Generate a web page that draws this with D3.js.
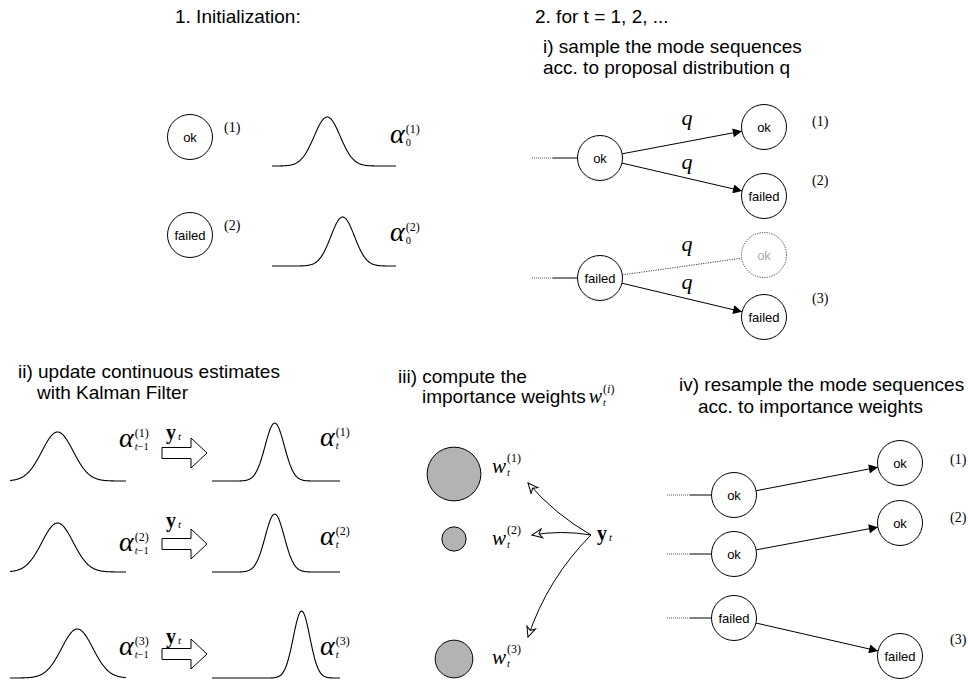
<!DOCTYPE html>
<html>
<head>
<meta charset="utf-8">
<script src="https://cdn.jsdelivr.net/npm/d3@7/dist/d3.min.js"></script>
<style>
  body { margin: 0; background: #fff; }
  text { font-family: "Liberation Sans", Arial, sans-serif; fill: #000; }
  text.serif { font-family: "Liberation Serif", "Times New Roman", serif; }
</style>
</head>
<body>
<svg id="chart"></svg>
<script>
// ---- data ----
// 1. initialization
var initModes = ["ok", "failed"];
var initIdx = ["(1)", "(2)"];
var initMeans = [44.5, 57];      // position of the peak, % of the axis
var initSds = [10.5, 9.5];

// i) sampling of mode sequences
var prevModes = ["ok", "failed"];
var sampledModes = [["ok", "failed"], ["ok", "failed"]];
var sampledKept = [[true, true], [false, true]];
var sampledIdx = [["(1)", "(2)"], [null, "(3)"]];

// ii) Kalman filter update
var kfIdx = ["(1)", "(2)", "(3)"];
var priorMeans = [41, 41, 58];
var priorSds = [13.5, 13.5, 13.5];
var postMeans = [49, 49, 70];
var postSds = [7.5, 7.5, 6.5];

// iii) importance weights
var weights = [0.59, 0.12, 0.29];
var weightIdx = ["(1)", "(2)", "(3)"];

// iv) resampling
var resFrom = ["ok", "ok", "failed"];
var resTo = ["ok", "ok", "failed"];
var resIdx = ["(1)", "(2)", "(3)"];

var width = 968, height = 685;
var NODE_R = 22.5;

var svg = d3.select("#chart")
  .attr("width", width)
  .attr("height", height);

var defs = svg.append("defs");
defs.append("marker")
  .attr("id", "solidHead")
  .attr("viewBox", "0 0 10 10")
  .attr("refX", 10).attr("refY", 5)
  .attr("markerWidth", 12).attr("markerHeight", 9)
  .attr("markerUnits", "userSpaceOnUse")
  .attr("orient", "auto")
  .append("path")
  .attr("d", "M0,0L10,5L0,10Z")
  .attr("fill", "#000");
defs.append("marker")
  .attr("id", "openHead")
  .attr("viewBox", "-1 -1 12 12")
  .attr("refX", 10).attr("refY", 5)
  .attr("markerWidth", 12).attr("markerHeight", 12)
  .attr("markerUnits", "userSpaceOnUse")
  .attr("orient", "auto")
  .append("path")
  .attr("d", "M0,0.5L10,5L0,9.5L3,5Z")
  .attr("fill", "#fff")
  .attr("stroke", "#000")
  .attr("stroke-width", 1);

// ---- helpers ----
function title(x, y, txt) {
  return svg.append("text")
    .attr("x", x).attr("y", y)
    .attr("font-size", 19)
    .text(txt);
}

function node(cx, cy, label, ghost) {
  svg.append("circle")
    .attr("cx", cx).attr("cy", cy).attr("r", NODE_R)
    .attr("fill", "#fff")
    .attr("stroke", ghost ? "#444" : "#000")
    .attr("stroke-width", 1)
    .attr("stroke-dasharray", ghost ? "1.2,1.2" : null);
  svg.append("text")
    .attr("x", cx).attr("y", cy)
    .attr("dy", "0.36em")
    .attr("text-anchor", "middle")
    .attr("font-size", 13)
    .style("fill", ghost ? "#aaa" : "#000")
    .text(label);
}

function idxLabel(x, y, txt) {
  svg.append("text").attr("class", "serif")
    .attr("x", x).attr("y", y)
    .attr("font-size", 14)
    .text(txt);
}

function leader(xa, xb, xc, y) {
  svg.append("line").attr("x1", xa).attr("x2", xb).attr("y1", y).attr("y2", y)
    .attr("stroke", "#555").attr("stroke-dasharray", "1,1");
  svg.append("line").attr("x1", xb).attr("x2", xc).attr("y1", y).attr("y2", y)
    .attr("stroke", "#000");
}

function edge(p, c, dotted) {
  var dx = c[0] - p[0], dy = c[1] - p[1], len = Math.sqrt(dx * dx + dy * dy);
  var ux = dx / len, uy = dy / len;
  svg.append("line")
    .attr("x1", p[0] + ux * NODE_R).attr("y1", p[1] + uy * NODE_R)
    .attr("x2", c[0] - ux * NODE_R).attr("y2", c[1] - uy * NODE_R)
    .attr("stroke", dotted ? "#444" : "#000")
    .attr("stroke-width", 1)
    .attr("stroke-dasharray", dotted ? "1.2,1.2" : null)
    .attr("marker-end", dotted ? null : "url(#solidHead)");
}

// pieces: array of [text, italic]
function addRuns(t, pieces) {
  pieces.forEach(function(p) {
    t.append("tspan").attr("font-style", p[1] ? "italic" : "normal").text(p[0]);
  });
}

// symbol with stacked super/subscript, y is the baseline of the symbol
function mathLabel(x, y, o) {
  var t = svg.append("text").attr("class", "serif")
    .attr("x", x).attr("y", y)
    .attr("font-size", o.size)
    .attr("font-style", o.bold ? "normal" : "italic")
    .attr("font-weight", o.bold ? "bold" : "normal")
    .text(o.base);
  var sx = x + t.node().getComputedTextLength() + (o.gap || 1);
  if (o.sup) {
    var s = svg.append("text").attr("class", "serif")
      .attr("x", sx).attr("y", y + o.supDy)
      .attr("font-size", o.supSize);
    addRuns(s, o.sup);
  }
  if (o.sub) {
    var b = svg.append("text").attr("class", "serif")
      .attr("x", sx).attr("y", y + o.subDy)
      .attr("font-size", o.subSize);
    addRuns(b, o.sub);
  }
}

function alpha(x, y, idx, sub) {
  mathLabel(x, y, { base: "\u03b1", size: 28, sup: [[idx, false]], supSize: 12, supDy: -10,
    sub: sub, subSize: 10.5, subDy: 3, gap: 0 });
}

function pdf(mu, sd) {
  return function(v) {
    return Math.exp(-0.5 * Math.pow((v - mu) / sd, 2)) / (sd * Math.sqrt(2 * Math.PI));
  };
}

// bell curve drawn through a linear x scale [0,100] and a density y scale
function bell(mu, sd, x0, x1, base, refSd, refPx) {
  var x = d3.scaleLinear().domain([0, 100]).range([x0, x1]);
  var y = d3.scaleLinear().domain([0, pdf(0, refSd)(0)]).range([base, base - refPx]);
  var f = pdf(mu, sd);
  var line = d3.line()
    .x(function(d) { return x(d); })
    .y(function(d) { return y(f(d)); })
    .curve(d3.curveBasis);
  svg.append("path")
    .attr("d", line(d3.range(0, 100.01, 0.5)))
    .attr("fill", "none")
    .attr("stroke", "#000")
    .attr("stroke-width", 1.1);
}

function blockArrow(x0, xh, xt, cy) {
  var sh = 5.5, hh = 15;
  var pts = [[x0, cy - sh], [xh, cy - sh], [xh, cy - hh], [xt, cy], [xh, cy + hh], [xh, cy + sh], [x0, cy + sh]];
  svg.append("path")
    .attr("d", d3.line()(pts) + "Z")
    .attr("fill", "#fff")
    .attr("stroke", "#000")
    .attr("stroke-width", 1);
}

function yt(x, y) {
  mathLabel(x, y, { base: "y", bold: true, size: 20, sub: [["t", true]], subSize: 11, subDy: 1, gap: 2 });
}

// ---- 1. Initialization ----
title(175, 23, "1. Initialization:");
var initY = [137, 235];
var initBase = [166, 266];
initModes.forEach(function(m, i) {
  node(190, initY[i], m);
  idxLabel(224, initY[i] - 5, initIdx[i]);
  bell(initMeans[i], initSds[i], 272, 396, initBase[i], initSds[i], 49);
  alpha(390, initY[i] + 6, initIdx[i], [["0", false]]);
});

// ---- 2. i) sample ----
title(535, 23, "2. for t = 1, 2, ...");
title(543, 53, "i) sample the mode sequences");
title(543, 74, "acc. to proposal distribution q");
var parY = [158, 278];
var childY = [[127, 196], [255, 317]];
var qY = [[125, 169], [251, 289]];
var sIdxY = [[126, 185], [null, 303]];
prevModes.forEach(function(m, i) {
  leader(532, 553, 600 - NODE_R, parY[i]);
  sampledModes[i].forEach(function(c, j) {
    edge([600, parY[i]], [764, childY[i][j]], !sampledKept[i][j]);
    svg.append("text").attr("class", "serif")
      .attr("x", 687).attr("y", qY[i][j])
      .attr("text-anchor", "middle")
      .attr("font-size", 22).attr("font-style", "italic")
      .text("q");
    node(764, childY[i][j], c, !sampledKept[i][j]);
    if (sampledIdx[i][j]) idxLabel(812, sIdxY[i][j], sampledIdx[i][j]);
  });
  node(600, parY[i], m);
});

// ---- ii) Kalman filter ----
title(18, 378, "ii) update continuous estimates");
title(37, 399, "with Kalman Filter");
var kfBase = [481, 572, 678];
var kfAlphaPrev = [447, 551, 655];
var kfAlphaPost = [446, 545, 655];
var kfY = [439, 527, 643];
var kfArrow = [453, 544, 654];
kfIdx.forEach(function(k, i) {
  bell(priorMeans[i], priorSds[i], 10, 126, kfBase[i], priorSds[0], 49);
  bell(postMeans[i], postSds[i], 212, 340, kfBase[i], postSds[0], 58);
  alpha(119, kfAlphaPrev[i], k, [["t", true], ["\u22121", false]]);
  alpha(320, kfAlphaPost[i], k, [["t", true]]);
  blockArrow(162, 191, 207, kfArrow[i]);
  yt(166, kfY[i]);
});

// ---- iii) importance weights ----
title(398, 383, "iii) compute the");
var impTitle = title(422, 403, "importance weights");
var wx = 422 + impTitle.node().getComputedTextLength() + 3;
mathLabel(wx, 403, { base: "w", size: 20, sup: [["(", false], ["i", true], [")", false]], supSize: 12,
  supDy: -10, sub: [["t", true]], subSize: 10, subDy: 3, gap: 0 });
var rScale = d3.scaleSqrt().domain([0, 1]).range([0, 35]);
var wY = [474, 539, 659];
var wLabY = [473, 545, 664];
var wTarget = [[528, 483], [532, 535], [528, 637]];
var wBend = [-7, 5, 14];
var origin = [591, 535];
weights.forEach(function(w, i) {
  svg.append("circle")
    .attr("cx", 454).attr("cy", wY[i]).attr("r", rScale(w))
    .attr("fill", "#b3b3b3")
    .attr("stroke", "#000").attr("stroke-width", 1);
  mathLabel(492, wLabY[i], { base: "w", size: 21, sup: [[weightIdx[i], false]], supSize: 12,
    supDy: -11, sub: [["t", true]], subSize: 10.5, subDy: 3, gap: 0 });
  var t = wTarget[i];
  var mx = (origin[0] + t[0]) / 2, my = (origin[1] + t[1]) / 2;
  var dx = t[0] - origin[0], dy = t[1] - origin[1], len = Math.sqrt(dx * dx + dy * dy);
  var cx = mx - dy / len * wBend[i], cy = my + dx / len * wBend[i];
  var p = d3.path();
  p.moveTo(origin[0], origin[1]);
  p.quadraticCurveTo(cx, cy, t[0], t[1]);
  svg.append("path")
    .attr("d", p.toString())
    .attr("fill", "none")
    .attr("stroke", "#000").attr("stroke-width", 1)
    .attr("marker-end", "url(#openHead)");
});
yt(597, 540);

// ---- iv) resample ----
title(679, 391, "iv) resample the mode sequences");
title(698, 413, "acc. to importance weights");
var rFromY = [495, 554, 618];
var rToY = [463, 523, 656];
var rIdxY = [464, 522, 644];
resFrom.forEach(function(m, i) {
  leader(667, 690, 734 - NODE_R, rFromY[i]);
  edge([734, rFromY[i]], [900, rToY[i]], false);
  node(734, rFromY[i], m);
  node(900, rToY[i], resTo[i]);
  idxLabel(950, rIdxY[i], resIdx[i]);
});
</script>
</body>
</html>
